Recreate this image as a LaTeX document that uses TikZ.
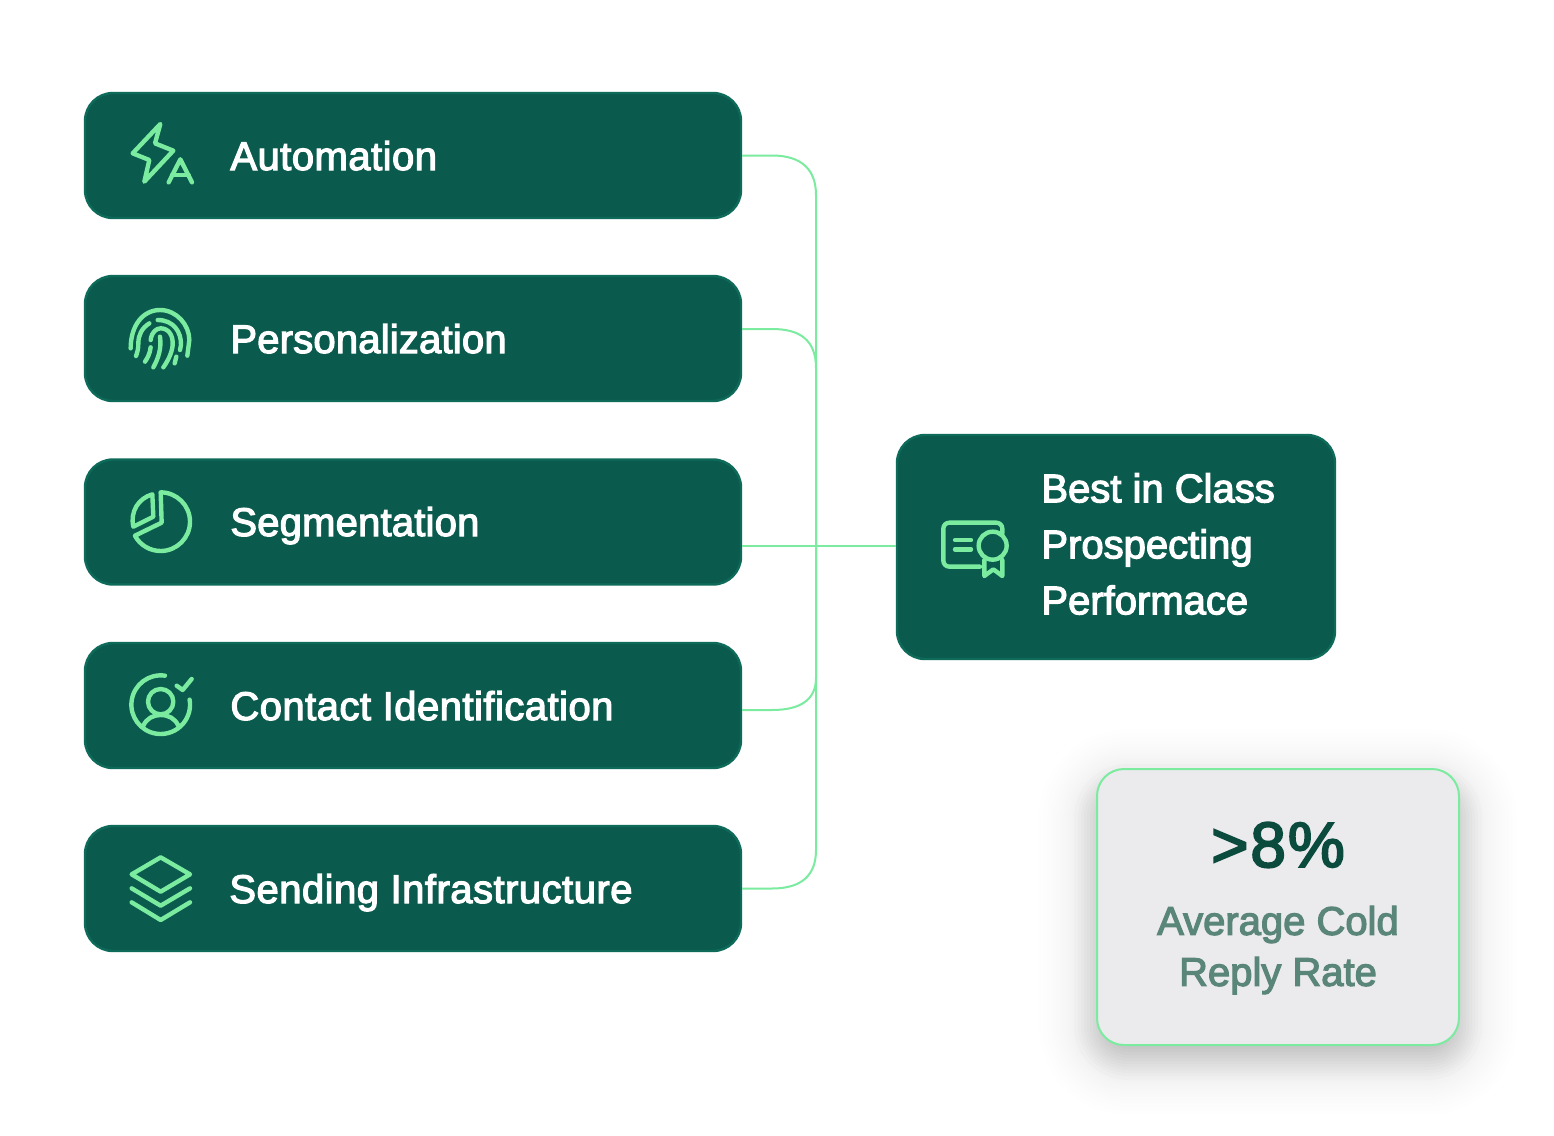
\documentclass[tikz,border=0pt]{standalone}
\usepackage{fontspec}
\setmainfont{Liberation Sans}
\newfontfamily\labfont[FakeBold=3,LetterSpace=1.2]{Liberation Sans}
\newfontfamily\tightlabfont[FakeBold=3,LetterSpace=0.5]{Liberation Sans}
\newfontfamily\plainlabfont[FakeBold=3]{Liberation Sans}
\newfontfamily\bigfont[FakeBold=3,LetterSpace=3]{Liberation Sans}
\definecolor{boxfill}{HTML}{0A5A4D}
\definecolor{boxedge}{HTML}{0E6B5A}
\definecolor{mint}{HTML}{7AEB9F}
\definecolor{statfill}{HTML}{EBEAED}
\definecolor{statdark}{HTML}{0A4B3E}
\definecolor{statsoft}{HTML}{5A8679}
\tikzset{
  card/.style={draw=boxedge,fill=boxfill,line width=1.2pt,rounded corners=14pt,inner sep=0pt,minimum height=62.5pt},
  rowcard/.style={card,minimum width=328pt},
  rowlabel/.style={anchor=base west,inner sep=0pt,text=white,font=\labfont\fontsize{20}{24}\selectfont},
  tightlabel/.style={rowlabel,font=\tightlabfont\fontsize{20}{24}\selectfont},
  link/.style={draw=mint,line width=1pt},
  icon/.style={draw=mint,line width=2.2pt,line cap=round,line join=round,fill=none},
}
\begin{document}
\begin{tikzpicture}[x=0.5pt,y=-0.5pt]
\path[use as bounding box,fill=white] (0,0) rectangle (1554,1136);

% soft shadow of the stat card
\foreach \e in {62,58,54,50,47,44,41,38,36,33,31,29}{
  \pgfmathsetmacro\rr{max(3,(27+\e)/2)}
  \fill[black,opacity=.005,rounded corners=\rr pt]
    ({1097-\e+4},{769-\e+22}) rectangle ({1459+\e-4},{1045+\e+8});
}
\foreach \e in {27,23,20,17,14,11,8,5,2,-1,-4,-7}{
  \pgfmathsetmacro\rr{max(3,(27+\e)/2)}
  \fill[black,opacity=.017,rounded corners=\rr pt]
    ({1097-\e+4},{769-\e+22}) rectangle ({1459+\e-4},{1045+\e+8});
}

% boxes
\node[rowcard] (auto) at (413,155.5) {};
\node[rowcard] (pers) at (413,338.5) {};
\node[rowcard] (segm) at (413,522) {};
\node[rowcard] (cont) at (413,705.5) {};
\node[rowcard] (send) at (413,888.5) {};
\node[card,minimum width=219pt,minimum height=112pt] (best) at (1116,547) {};
\node[draw=mint,fill=statfill,line width=1pt,rounded corners=13.5pt,inner sep=0pt,minimum width=181pt,minimum height=138pt] (stat) at (1278,907) {};

% connectors
\coordinate (hub) at (816,546);
\draw[link] (auto.east) -- (772,155.5) .. controls (802,155.5) and (816,170) .. (816,195) -- (hub);
\draw[link] ([yshift=4.75pt]pers.east) -- (772,329) .. controls (800,329) and (816,340) .. (816,368) -- (hub);
\draw[link] ([yshift=-12pt]segm.east) -- (hub) -- (best.west |- hub);
\draw[link] ([yshift=-2.25pt]cont.east) -- (772,710) .. controls (800,710) and (816,700) .. (816,678) -- (hub);
\draw[link] (send.east) -- (772,888.5) .. controls (802,888.5) and (816,875) .. (816,850) -- (hub);

% labels
\node[rowlabel] (tauto) at (230,170) {Automation};
\node[tightlabel] (tpers) at (230,353) {Personalization};
\node[tightlabel] (tsegm) at (230,536) {Segmentation};
\node[rowlabel] (tcont) at (230,720) {Contact Identification};
\node[rowlabel] (tsend) at (229,903) {Sending Infrastructure};
\node[anchor=west,inner sep=0pt,text=white,align=left,font=\plainlabfont\fontsize{20}{28}\selectfont] (tbest) at (1041,544) {Best in Class\\Prospecting\\Performace};
\node[anchor=base,inner sep=0pt,text=statdark,font=\bigfont\fontsize{32}{36}\selectfont] (tpct) at (1278,867) {>8\%};
\node[inner sep=0pt,text=statsoft,align=center,font=\plainlabfont\fontsize{20}{25.5}\selectfont] (tavg) at (1278,950) {Average Cold\\Reply Rate};

% icon: bolt + A
\begin{scope}[shift={(110,100)},scale=1/3]
\draw[icon] (151,72) -- (135,130) -- (190,152) -- (103,245) -- (118,180) -- (68,160) -- cycle;
\draw[icon] (176,247) -- (211,178) -- (246,247);
\draw[icon] (186,225) -- (236,225);
\end{scope}

% icon: fingerprint
\begin{scope}[shift={(110,290)},scale=1/3]
\draw[icon] (62,175) .. controls (62,105) and (100,60) .. (150,60) .. controls (200,60) and (238,105) .. (238,150) -- (232,197);
\draw[icon] (118,100) .. controls (95,115) and (85,135) .. (85,160) .. controls (85,175) and (83,185) .. (78,198);
\draw[icon] (143,90) .. controls (190,90) and (214,125) .. (213,165) -- (210,180);
\draw[icon] (122,150) .. controls (125,125) and (140,115) .. (152,115) .. controls (175,115) and (190,135) .. (188,165) .. controls (186,190) and (172,215) .. (160,232);
\draw[icon] (150,140) .. controls (155,175) and (145,205) .. (130,232);
\draw[icon] (122,172) .. controls (120,190) and (112,205) .. (105,215);
\draw[icon] (199,200) -- (194,220);
\end{scope}

% icon: pie
\begin{scope}[shift={(110,475)},scale=1/3]
\draw[icon] (152,52) arc[start angle=-90,end angle=151.4,radius=88] -- (155,143) -- cycle;
\draw[icon] (70,155) .. controls (60,110) and (85,70) .. (127,58) -- (130,125) -- cycle;
\end{scope}

% icon: person + check
\begin{scope}[shift={(110,655)},scale=1/3]
\draw[icon] (165,62) arc[start angle=-81.6,end angle=-369.9,radius=88];
\draw[icon] (152,140) circle[radius=38];
\draw[icon] (100,212) .. controls (110,190) and (130,180) .. (152,180) .. controls (175,180) and (195,190) .. (205,212);
\draw[icon] (200,92) -- (218,105) -- (245,72);
\end{scope}

% icon: layers
\begin{scope}[shift={(110,840)},scale=1/3]
\draw[icon] (152,52) -- (240,103) -- (152,155) -- (65,103) -- cycle;
\draw[icon] (65,145) -- (152,197) -- (240,145);
\draw[icon] (65,187) -- (152,240) -- (240,187);
\end{scope}

% icon: certificate
\begin{scope}[shift={(925,500)},scale=1/3]
\draw[icon,rounded corners=3pt] (232,100) -- (232,68) -- (55,68) -- (55,200) -- (165,200);
\draw[icon] (90,120) -- (138,120);
\draw[icon] (90,148) -- (138,148);
\draw[icon] (203,137) circle[radius=42];
\draw[icon] (178,180) -- (178,228) -- (205,208) -- (232,228) -- (232,180);
\end{scope}
\end{tikzpicture}
\end{document}
